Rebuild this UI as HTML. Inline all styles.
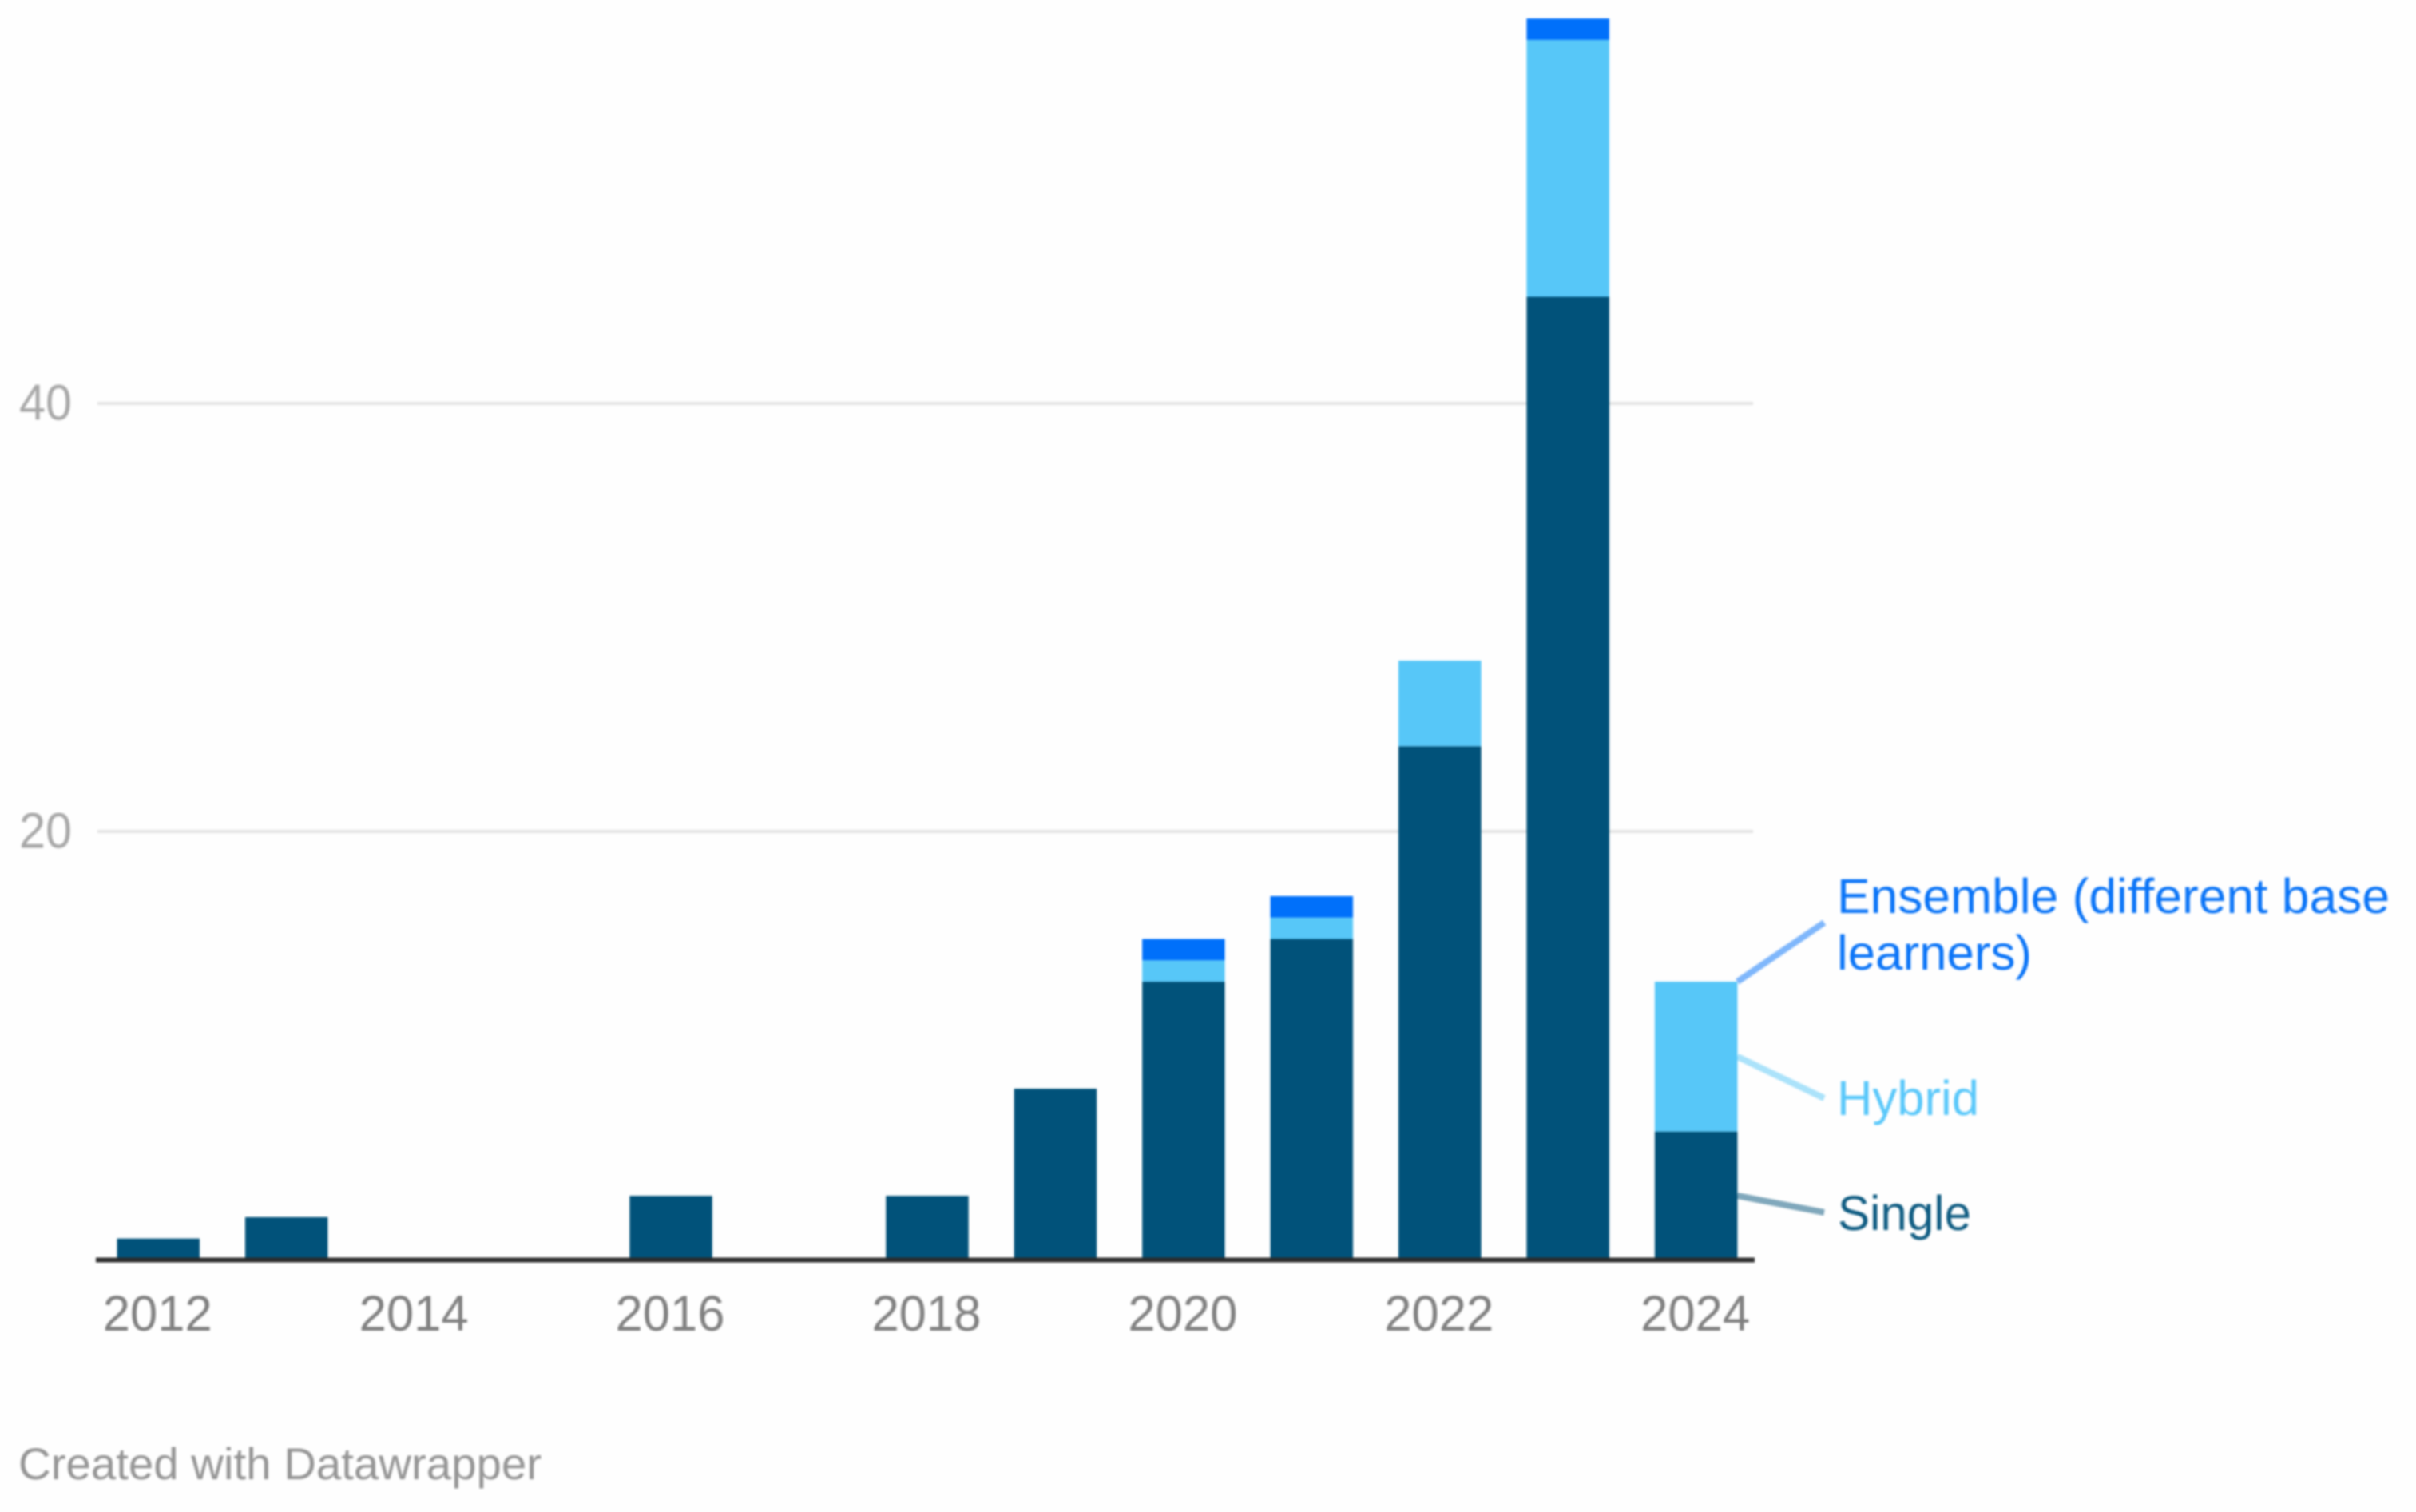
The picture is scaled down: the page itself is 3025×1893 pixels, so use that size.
<!DOCTYPE html>
<html lang="en">
<head>
<meta charset="utf-8">
<title>Stacked bars by year</title>
<style>
html,body{margin:0;padding:0;background:#fefefe;width:3025px;height:1893px;overflow:hidden}
svg{display:block;filter:blur(1.2px)}
text{font-family:"Liberation Sans",sans-serif}
</style>
</head>
<body>
<svg id="chart" xmlns="http://www.w3.org/2000/svg" width="3025" height="1893" viewBox="0 0 3025 1893">
  <g id="grid"></g>
  <g id="yticks"></g>
  <g id="bars"></g>
  <line x1="120" x2="2197" y1="1577.5" y2="1577.5" stroke="#2b2b2b" stroke-width="6"></line>
  <g id="xticks"></g>
  <g id="leaders"></g>
  <text x="2300" y="1143" font-size="61" fill="#0a74f7" textLength="692" lengthAdjust="spacingAndGlyphs">Ensemble (different base</text>
  <text x="2300" y="1214" font-size="61" fill="#0a74f7" textLength="244" lengthAdjust="spacingAndGlyphs">learners)</text>
  <text x="2300" y="1396" font-size="61" fill="#5ac8fa" textLength="178" lengthAdjust="spacingAndGlyphs">Hybrid</text>
  <text x="2301" y="1540" font-size="61" fill="#0f5c82" textLength="167" lengthAdjust="spacingAndGlyphs">Single</text>
  <text x="23" y="1852" font-size="56" fill="#959595" textLength="655" lengthAdjust="spacingAndGlyphs">Created with Datawrapper</text>
</svg>
<script>
const years = [2012, 2013, 2014, 2015, 2016, 2017, 2018, 2019, 2020, 2021, 2022, 2023, 2024];
const single = [1, 2, 0, 0, 3, 0, 3, 8, 13, 15, 24, 45, 6];
const hybrid = [0, 0, 0, 0, 0, 0, 0, 0, 1, 1, 4, 12, 7];
const ensemble = [0, 0, 0, 0, 0, 0, 0, 0, 1, 1, 0, 1, 0];
const yTickValues = [20, 40];
const xTickYears = [2012, 2014, 2016, 2018, 2020, 2022, 2024];

const NS = 'http://www.w3.org/2000/svg';
const BAR_W = 103.5;
const yScale = v => 1577.5 - v * 26.8;
const xScale = year => 146.5 + (year - 2012) * 160.45;

function make(tag, attrs, parent) {
  const el = document.createElementNS(NS, tag);
  for (const k in attrs) el.setAttribute(k, attrs[k]);
  parent.appendChild(el);
  return el;
}

const gridG = document.getElementById('grid');
const yG = document.getElementById('yticks');
yTickValues.forEach(v => {
  const ln = make('line', {x1: 122, x2: 2195, y1: yScale(v) - 0.5, y2: yScale(v) - 0.5, stroke: '#e4e4e4', 'stroke-width': 4}, gridG);
  
  
  const t = make('text', {x: 24, y: yScale(v) + 20, 'font-size': 63, fill: '#a8a8a8', textLength: 66, lengthAdjust: 'spacingAndGlyphs'}, yG);
  t.textContent = v;
  
  
});

const barsG = document.getElementById('bars');
const seriesList = [
  {values: single, color: '#01527a'},
  {values: hybrid, color: '#57c7f8'},
  {values: ensemble, color: '#0070fa'}
];
years.forEach((year, i) => {
  let base = 0;
  seriesList.forEach(s => {
    const v = s.values[i];
    if (v > 0) {
      const r = make('rect', {x: xScale(year), y: yScale(base + v), width: BAR_W, height: yScale(base) - yScale(base + v), fill: s.color}, barsG);
      
      
    }
    base += v;
  });
});

const xG = document.getElementById('xticks');
xTickYears.forEach(year => {
  const t = make('text', {x: xScale(year) + BAR_W / 2 - 1, y: 1666, 'font-size': 63, fill: '#808080', 'text-anchor': 'middle', textLength: 137, lengthAdjust: 'spacingAndGlyphs'}, xG);
  t.textContent = year;
  
  
});

const last = years.length - 1;
const leaderStartX = xScale(years[last]) + BAR_W;
const leaderTargets = [
  {mid: single[last] / 2, endY: 1518, color: '#01527a'},
  {mid: single[last] + hybrid[last] / 2, endY: 1375, color: '#57c7f8'},
  {mid: single[last] + hybrid[last] + ensemble[last] / 2, endY: 1155, color: '#0070fa'}
];
const leadersG = document.getElementById('leaders');
leaderTargets.forEach(d => {
  const ln = make('line', {x1: leaderStartX, y1: yScale(d.mid), x2: 2284, y2: d.endY, stroke: d.color, 'stroke-width': 8, 'stroke-opacity': 0.5}, leadersG);
  
  
});
</script>
</body>
</html>
